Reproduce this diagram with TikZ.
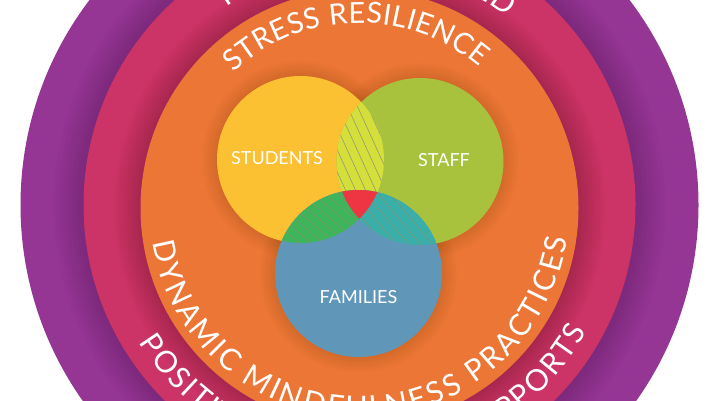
\documentclass[tikz,border=0pt]{standalone}
\usepackage{fontspec}
\setmainfont{Lato}
\usetikzlibrary{decorations.text}
\definecolor{cpurple}{HTML}{953594}
\definecolor{cmagenta}{HTML}{CC3366}
\definecolor{corange}{HTML}{EC7636}
\definecolor{cyellow}{HTML}{FCC033}
\definecolor{cgreen}{HTML}{A9C23E}
\definecolor{cblue}{HTML}{6097B9}
\definecolor{clens}{HTML}{D5DF3B}
\definecolor{csf}{HTML}{3DB55A}
\definecolor{ctf}{HTML}{3AAFA9}
\definecolor{cred}{HTML}{EE3542}
\definecolor{chatch}{HTML}{8A8F6E}
\newcommand\ringshadow[4]{%
  \foreach \k in {1,...,12}{\fill[black,opacity=#4] (#1) circle[radius={#2+\k*#3}];}}
\tikzset{
  lbl/.style={text=white,font=\fontsize{18}{18}\selectfont,inner sep=0pt},
  hatch/.style={draw=chatch,line width=0.6pt,opacity=0.85},
}
\begin{document}
\begin{tikzpicture}[x=1pt,y=1pt]
\useasboundingbox (0,0) rectangle (719,400);
\clip (0,0) rectangle (719,400);
\fill[white] (0,0) rectangle (719,400);
\coordinate (M) at (359.5,195);
\coordinate (O) at (359.5,192);
\coordinate (S) at (300.5,240.5);
\coordinate (T) at (420,238.5);
\coordinate (F) at (358.5,126.5);
\def\vr{83.5}
% rings
\fill[cpurple] (M) circle[radius=339];
\ringshadow{M}{276}{2.5}{0.012}
\fill[cmagenta] (M) circle[radius=276];
\ringshadow{O}{219}{2.2}{0.013}
\fill[corange] (O) circle[radius=219];
% venn
\foreach \c in {S,T,F}{\ringshadow{\c}{\vr}{1.3}{0.007}}
\fill[cyellow] (S) circle[radius=\vr];
\fill[cgreen] (T) circle[radius=\vr];
\fill[cblue] (F) circle[radius=\vr];
\begin{scope}
  \clip (S) circle[radius=\vr];
  \fill[clens] (T) circle[radius=\vr];
  \fill[csf] (F) circle[radius=\vr];
\end{scope}
\begin{scope}
  \clip (T) circle[radius=\vr];
  \fill[ctf] (F) circle[radius=\vr];
\end{scope}
% hatching
\begin{scope}
  \clip (S) circle[radius=\vr];
  \clip (T) circle[radius=\vr];
  \foreach \i in {-14,...,14}
    \draw[hatch] ({360+\i*10-50},310) -- ++(100,-220);
\end{scope}
\begin{scope}
  \clip (S) circle[radius=\vr];
  \clip (F) circle[radius=\vr];
  \foreach \i in {-16,...,16}
    \draw[hatch] ({320+\i*12-90},{180+76}) -- ++(180,-152);
\end{scope}
\begin{scope}
  \clip (T) circle[radius=\vr];
  \clip (F) circle[radius=\vr];
  \foreach \i in {-16,...,16}
    \draw[hatch] ({400+\i*12-80},{180+95}) -- ++(160,-190);
\end{scope}
\begin{scope}
  \clip (S) circle[radius=\vr];
  \clip (T) circle[radius=\vr];
  \fill[cred] (F) circle[radius=\vr];
\end{scope}
% labels
\node[lbl] (students) at (277,242) {STUDENTS};
\node[lbl] (staff) at (444,240) {STAFF};
\node[lbl] (families) at (358.5,103) {FAMILIES};
% curved texts
\path[decorate,decoration={text along path,text align={fit to path},text color=white,
  text={|\fontsize{29}{29}\selectfont|STRESS RESILIENCE}}]
  ([shift={(133:185)}]O) arc[start angle=133,end angle=49.5,radius=185];
\path[decorate,decoration={text along path,text align={fit to path},text color=white,
  text={|\fontsize{30}{30}\selectfont|DYNAMIC MINDFULNESS PRACTICES}}]
  ([shift={(189.4:210)}]O) arc[start angle=189.4,end angle=351.6,radius=210];
\path[decorate,decoration={text along path,text align={fit to path},text color=white,
  text={|\fontsize{30}{30}\selectfont|TRAUMA-INFORMED}}]
  ([shift={(125:239)}]M) arc[start angle=125,end angle=52,radius=239];
\path[decorate,decoration={text along path,text align={fit to path},text color=white,
  text={|\fontsize{30}{30}\selectfont|POSITIVE BEHAVIORAL SUPPORTS}}]
  ([shift={(212:260)}]M) arc[start angle=212,end angle=331,radius=260];
\end{tikzpicture}
\end{document}
